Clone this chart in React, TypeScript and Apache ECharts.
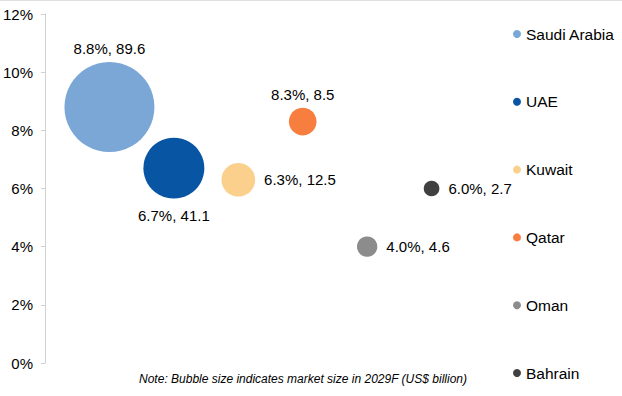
import React, { useEffect, useRef } from "react";
import * as echarts from "echarts";

const countries = ["Saudi Arabia", "UAE", "Kuwait", "Qatar", "Oman", "Bahrain"];
const positions = [1, 2, 3, 4, 5, 6];
const growth = [8.8, 6.7, 6.3, 8.3, 4.0, 6.0];
const marketSize = [89.6, 41.1, 12.5, 8.5, 4.6, 2.7];
const colors = ["#7BA7D6", "#0755A3", "#FBD08C", "#F77E3E", "#8C8C8C", "#404040"];
const labelPos = ["top", "bottom", "right", "top", "right", "right"];
const labelDist = [6, 9, 9, 6, 9, 9];
const yTicks = [0, 2, 4, 6, 8, 10, 12];
const note = "Note: Bubble size indicates market size in 2029F (US$ billion)";

const FONT = "'Liberation Sans', Arial, sans-serif";

export default function App() {
  const ref = useRef<HTMLDivElement>(null);
  useEffect(() => {
    if (!ref.current) return;
    const chart = echarts.init(ref.current, undefined, { renderer: "svg" });
    const maxSize = Math.max(...marketSize);
    const series = countries.map((name, i) => ({
      name,
      type: "scatter",
      data: [[positions[i], growth[i], marketSize[i]]],
      symbolSize: (d: number[]) => 90 * Math.sqrt(d[2] / maxSize),
      itemStyle: { color: colors[i], opacity: 1 },
      label: {
        show: true,
        position: labelPos[i],
        distance: labelDist[i],
        color: "#000",
        fontSize: 15,
        fontFamily: FONT,
        formatter: (p: any) => `${p.value[1].toFixed(1)}%, ${p.value[2]}`,
      },
      emphasis: { disabled: true },
    }));
    chart.setOption({
      animation: false,
      backgroundColor: "#fff",
      grid: { left: 45, top: 14, bottom: 33, right: 126, containLabel: false },
      xAxis: { type: "value", min: 0, max: 7, show: false },
      yAxis: {
        type: "value",
        min: yTicks[0],
        max: yTicks[yTicks.length - 1],
        interval: 2,
        axisLine: { show: true, lineStyle: { color: "#d0d0d0", width: 1 } },
        axisTick: { show: true, length: 4, lineStyle: { color: "#d0d0d0" } },
        splitLine: { show: false },
        axisLabel: {
          formatter: "{value}%",
          color: "#000",
          fontSize: 15,
          fontFamily: FONT,
          margin: 12,
        },
      },
      legend: {
        orient: "vertical",
        left: 508,
        top: 21,
        icon: "circle",
        itemWidth: 8,
        itemHeight: 8,
        itemGap: 51.8,
        data: countries,
        textStyle: { fontSize: 15.5, fontFamily: FONT, color: "#000", lineHeight: 16 },
        selectedMode: false,
      },
      graphic: [
        {
          type: "line",
          shape: { x1: 0, y1: 0.5, x2: 622, y2: 0.5 },
          style: { stroke: "#e0e0e0", lineWidth: 1 },
        },
        {
          type: "text",
          x: 303,
          y: 379,
          style: {
            text: note,
            fontSize: 12,
            fontStyle: "italic",
            fontFamily: FONT,
            fill: "#000",
            align: "center",
            verticalAlign: "middle",
          },
        },
      ],
      series,
    });
    return () => chart.dispose();
  }, []);
  return (
    <div
      ref={ref}
      style={{ position: "absolute", left: 0, top: 0, width: 622, height: 396 }}
    />
  );
}
